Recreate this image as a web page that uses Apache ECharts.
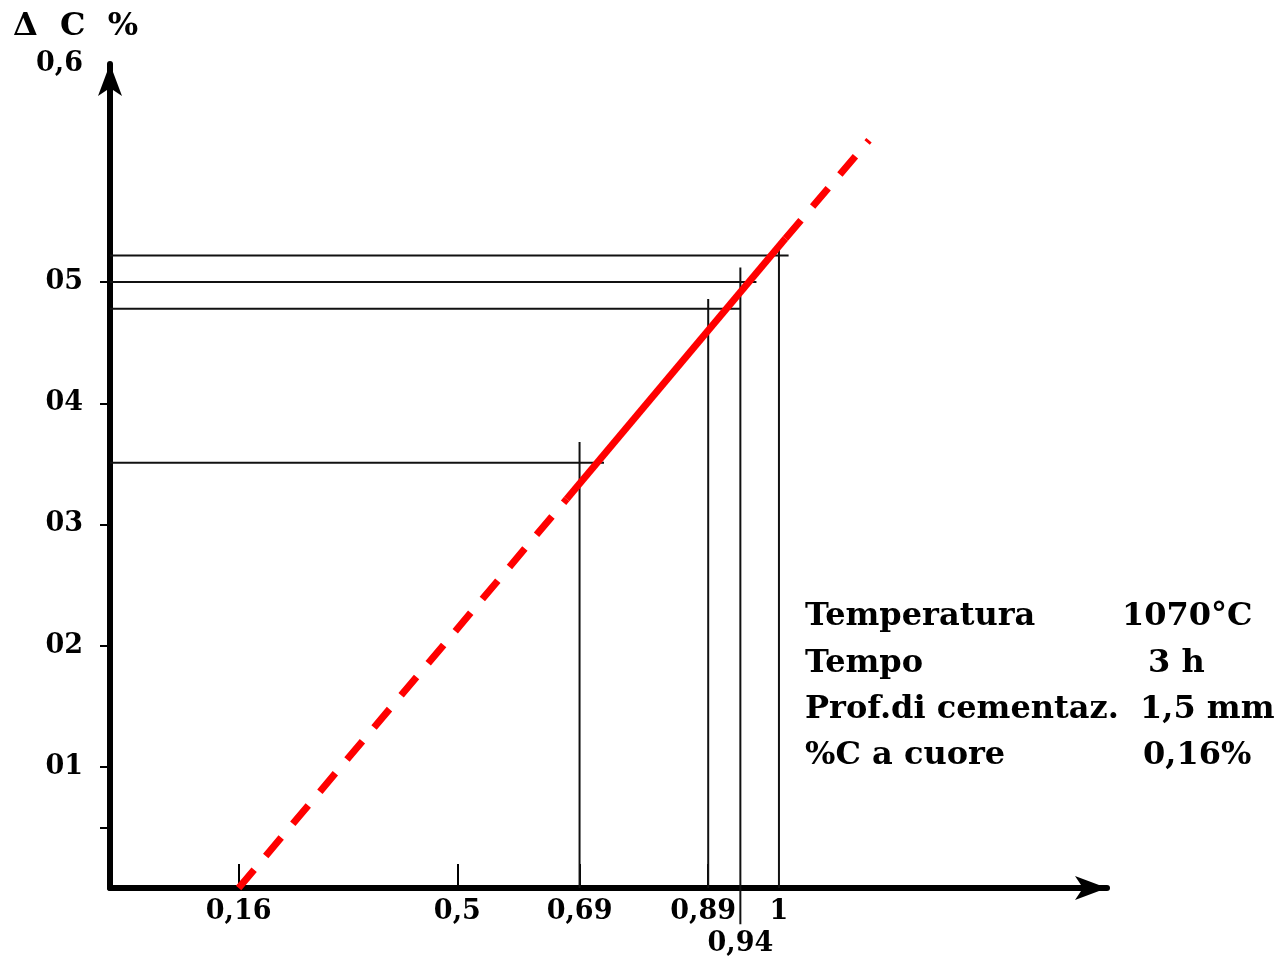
<!DOCTYPE html>
<html>
<head>
<meta charset="utf-8">
<title>Delta C % - cementazione</title>
<script src="https://cdn.jsdelivr.net/npm/echarts@6.0.0/dist/echarts.min.js"></script>
<style>
  html, body { margin: 0; padding: 0; background: #fff; }
  #chart { width: 1286px; height: 960px; }
</style>
</head>
<body>
<div id="chart"></div>
<script>
// valori segnati sugli assi
const xTickValues = [0.16, 0.5, 0.69, 0.89, 0.94, 1];
const xTickLabels = ['0,16', '0,5', '0,69', '0,89', '0,94', '1'];
const xTickMarks = [0.16, 0.5, 0.69, 0.89];

const yTickValues = [0.1, 0.2, 0.3, 0.4, 0.5];
const yTickLabels = ['01', '02', '03', '04', '05'];
const yTickMarks = [0.05, 0.1, 0.2, 0.3, 0.4, 0.5];
const yTopLabel = '0,6';

// linee di lettura orizzontali: [y, x fine]
const hGuides = [[0.522, 1.015], [0.5, 0.965], [0.478, 0.94], [0.351, 0.728]];
// linee di lettura verticali: [x, y inizio, y fine]
const vGuides = [[0.69, 0, 0.368], [0.89, 0, 0.486], [0.94, -0.03, 0.512], [1, 0, 0.532]];

// retta rossa: tratto pieno nel campo misurato, tratteggio fuori
const redLow = [[0.16, 0], [0.67, 0.321]];
const redMid = [[0.67, 0.321], [1.01, 0.536]];
const redHigh = [[1.01, 0.536], [1.14, 0.617]];

const infoLabels = ['Temperatura', 'Tempo', 'Prof.di cementaz.', '%C a cuore'];
const infoValues = ['1070°C', '3 h', '1,5 mm', '0,16%'];

const X_MIN = -0.04, X_MAX = 1.51;
const Y_MIN = 0, Y_MAX = 0.68;
const FONT = 'DejaVu Serif';

const chart = echarts.init(document.getElementById('chart'));

const pick = (vals, labels, v) => {
  const i = vals.findIndex(t => Math.abs(t - v) < 1e-6);
  return i < 0 ? '' : labels[i];
};

const guideStyle = { color: '#111', width: 2 };

const series = [];
hGuides.forEach(([y, xEnd]) => {
  series.push({
    type: 'line', symbol: 'none', silent: true, z: 2,
    lineStyle: guideStyle,
    data: [[X_MIN, y], [xEnd, y]]
  });
});
vGuides.forEach(([x, y0, y1]) => {
  series.push({
    type: 'line', symbol: 'none', silent: true, z: 2, clip: false,
    lineStyle: guideStyle,
    data: [[x, y0], [x, y1]]
  });
});
[[redLow, [24, 18]], [redMid, 'solid'], [redHigh, [24, 18]]].forEach(([d, t]) => {
  series.push({
    type: 'line', symbol: 'none', silent: true, z: 5, clip: false,
    lineStyle: { color: '#ff0000', width: 7, type: t, cap: 'butt' },
    data: d
  });
});

const labelFont = { fontFamily: FONT, fontWeight: 'bold', fontSize: 27, color: '#000' };

const option = {
  animation: false,
  backgroundColor: '#fff',
  title: {
    text: 'Δ  C  %',
    left: 8,
    top: 6,
    textStyle: { fontFamily: FONT, fontSize: 32, fontWeight: 'bold', color: '#000' }
  },
  grid: { left: 110, top: 64, width: 997, height: 824 },
  xAxis: {
    type: 'value',
    min: X_MIN,
    max: X_MAX,
    splitLine: { show: false },
    axisLine: {
      show: true,
      onZero: false,
      symbol: ['none', 'arrow'],
      symbolSize: [18, 32],
      lineStyle: { color: '#000', width: 6 }
    },
    axisTick: {
      show: true,
      inside: true,
      length: 24,
      customValues: xTickMarks,
      lineStyle: { color: '#000', width: 2 }
    },
    axisLabel: {
      ...labelFont,
      margin: 10,
      customValues: xTickValues,
      formatter: v => {
        const s = pick(xTickValues, xTickLabels, v);
        if (Math.abs(v - 0.94) < 1e-6) return '{low|' + s + '}';
        if (Math.abs(v - 0.89) < 1e-6) return '{left|' + s + '}';
        return s;
      },
      rich: {
        low: { ...labelFont, padding: [32, 0, 0, 0] },
        left: { ...labelFont, padding: [0, 10, 0, 0] }
      }
    }
  },
  yAxis: {
    type: 'value',
    min: Y_MIN,
    max: Y_MAX,
    splitLine: { show: false },
    axisLine: {
      show: true,
      onZero: false,
      symbol: ['none', 'arrow'],
      symbolSize: [18, 32],
      lineStyle: { color: '#000', width: 6 }
    },
    axisTick: {
      show: true,
      length: 10,
      customValues: yTickMarks,
      lineStyle: { color: '#000', width: 2 }
    },
    axisLabel: {
      ...labelFont,
      margin: 27,
      customValues: yTickValues.concat([Y_MAX]),
      formatter: v => (Math.abs(v - Y_MAX) < 1e-6 ? yTopLabel : pick(yTickValues, yTickLabels, v))
    }
  },
  graphic: infoLabels.map((t, i) => ({
    type: 'group',
    children: [
      {
        type: 'text', x: 805, y: 617 + i * 46.3,
        style: { text: t, font: 'bold 32px "DejaVu Serif"', fill: '#000', verticalAlign: 'middle' }
      },
      {
        type: 'text', x: [1122, 1148, 1140, 1143][i], y: 617 + i * 46.3,
        style: { text: infoValues[i], font: 'bold 32px "DejaVu Serif"', fill: '#000', verticalAlign: 'middle' }
      }
    ]
  })),
  series
};

chart.setOption(option);
window.addEventListener('resize', () => chart.resize());
</script>
</body>
</html>
